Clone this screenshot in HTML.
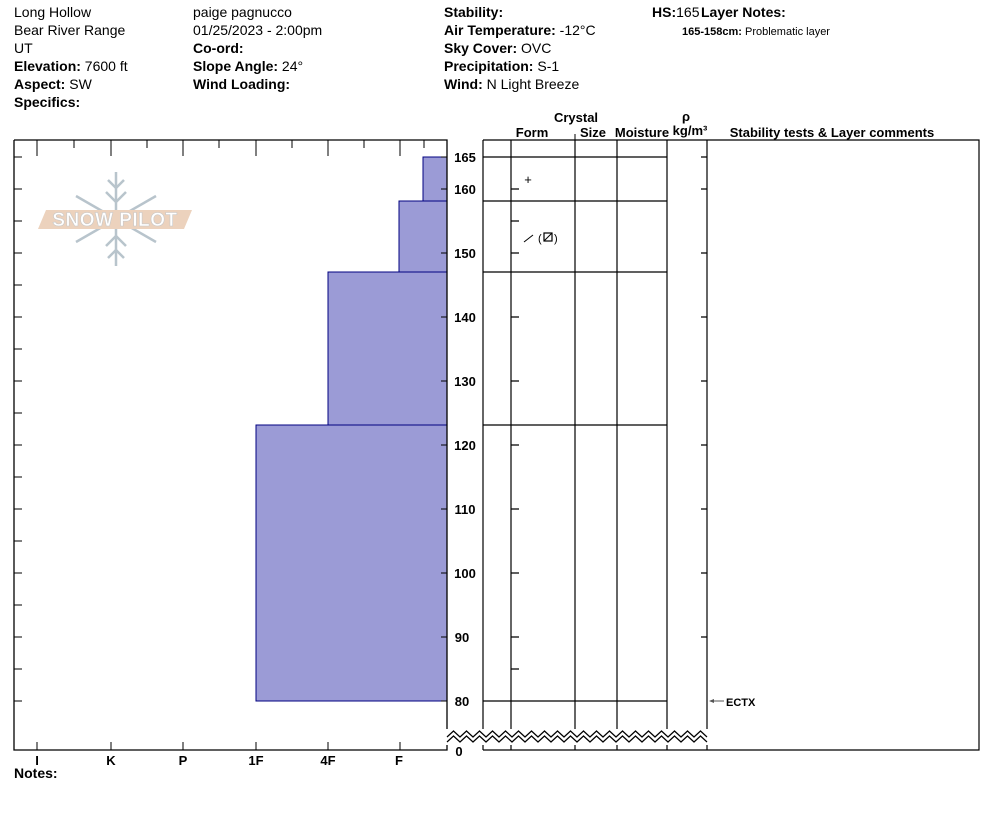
<!DOCTYPE html>
<html><head><meta charset="utf-8"><style>
body{margin:0;background:#fff}
svg{display:block;font-family:"Liberation Sans",sans-serif}
.b{font-weight:bold}
</style></head><body>
<svg width="994" height="840" viewBox="0 0 994 840" xmlns="http://www.w3.org/2000/svg">
<g font-size="14" fill="#000">
<text x="14" y="17">Long Hollow</text>
<text x="14" y="35">Bear River Range</text>
<text x="14" y="53">UT</text>
<text x="14" y="71"><tspan class="b">Elevation:</tspan> 7600 ft</text>
<text x="14" y="89"><tspan class="b">Aspect:</tspan> SW</text>
<text x="14" y="107" class="b">Specifics:</text>
<text x="193" y="17">paige pagnucco</text>
<text x="193" y="35">01/25/2023 - 2:00pm</text>
<text x="193" y="53" class="b">Co-ord:</text>
<text x="193" y="71"><tspan class="b">Slope Angle:</tspan> 24°</text>
<text x="193" y="89" class="b">Wind Loading:</text>
<text x="444" y="17" class="b">Stability:</text>
<text x="444" y="35"><tspan class="b">Air Temperature:</tspan> -12°C</text>
<text x="444" y="53"><tspan class="b">Sky Cover:</tspan> OVC</text>
<text x="444" y="71"><tspan class="b">Precipitation:</tspan> S-1</text>
<text x="444" y="89"><tspan class="b">Wind:</tspan>  N Light Breeze</text>
<text x="652" y="17"><tspan class="b">HS:</tspan>165</text>
<text x="701" y="17" class="b">Layer Notes:</text>
</g>
<text x="682" y="35" font-size="11"><tspan class="b">165-158cm:</tspan> Problematic layer</text>

<g stroke="#b8c4cc" stroke-width="2.5" fill="none">
<line x1="116" y1="172" x2="116" y2="266"/>
<line x1="76" y1="196" x2="156" y2="242"/>
<line x1="76" y1="242" x2="156" y2="196"/>
<path d="M108 180 L116 188 L124 180 M106 192 L116 202 L126 192 M108 258 L116 250 L124 258 M106 246 L116 236 L126 246"/>
</g>
<polygon points="46,210 192,210 184,229 38,229" fill="#ecd2bd"/>
<text x="115" y="226" font-size="19" font-weight="bold" fill="#fff" stroke="#c8c8c8" stroke-width="0.6" text-anchor="middle" letter-spacing="0.5">SNOW PILOT</text>

<g fill="#9b9bd6" stroke="#000080" stroke-width="1">
<rect x="256" y="425" width="191" height="276"/>
<rect x="328" y="272" width="119" height="153"/>
<rect x="399" y="201" width="48" height="71"/>
<rect x="423" y="157" width="24" height="44"/>
</g>

<g stroke="#000" stroke-width="1.3" fill="none">
<path d="M14 140 V750 H447 V140 H14"/>
</g>
<g stroke="#000" stroke-width="1">
<path d="M37 140v16 M111 140v16 M183 140v16 M256 140v16 M328 140v16 M400 140v16 M74 140v8 M147 140v8 M219 140v8 M292 140v8 M364 140v8 M424 140v8"/>
<path d="M37 750v-8 M111 750v-8 M183 750v-8 M256 750v-8 M328 750v-8 M400 750v-8"/>
<path d="M14 157h8 M14 189h8 M14 221h8 M14 253h8 M14 285h8 M14 317h8 M14 349h8 M14 381h8 M14 413h8 M14 445h8 M14 477h8 M14 509h8 M14 541h8 M14 573h8 M14 605h8 M14 637h8 M14 669h8 M14 701h8"/>
<path d="M447 157h-6 M447 189h-6 M447 253h-6 M447 317h-6 M447 381h-6 M447 445h-6 M447 509h-6 M447 573h-6 M447 637h-6 M447 701h-6"/>
</g>
<g font-size="13" font-weight="bold" text-anchor="middle">
<text x="37" y="765">I</text><text x="111" y="765">K</text><text x="183" y="765">P</text>
<text x="256" y="765">1F</text><text x="328" y="765">4F</text><text x="399" y="765">F</text>
</g>
<text x="14" y="778" font-size="14" font-weight="bold">Notes:</text>

<g font-size="13" font-weight="bold" text-anchor="middle">
<text x="465" y="162">165</text><text x="465" y="194">160</text><text x="465" y="258">150</text>
<text x="465" y="322">140</text><text x="465" y="386">130</text><text x="465" y="450">120</text>
<text x="465" y="514">110</text><text x="465" y="578">100</text><text x="462" y="642">90</text>
<text x="462" y="706">80</text><text x="459" y="756">0</text>
</g>

<g font-size="13" font-weight="bold" text-anchor="middle">
<text x="576" y="122">Crystal</text>
<text x="532" y="137">Form</text><text x="593" y="137">Size</text><text x="642" y="137">Moisture</text>
<text x="686" y="121">ρ</text><text x="690" y="135">kg/m³</text>
<text x="832" y="137">Stability tests &amp; Layer comments</text>
</g>
<line x1="575" y1="134" x2="575" y2="140" stroke="#000"/>
<g stroke="#000" stroke-width="1.2" fill="none">
<path d="M483 140 H979 V750 H707 M483 140 V750 M511 140 V750 M575 140 V750 M617 140 V750 M667 140 V750 M707 140 V750 M483 750 H707"/>
<path d="M483 157H667 M483 201H667 M483 272H667 M483 425H667 M483 701H667"/>
<path d="M511 189h8 M511 221h8 M511 253h8 M511 317h8 M511 381h8 M511 445h8 M511 509h8 M511 573h8 M511 637h8 M511 669h8"/>
<path d="M707 157h-6 M707 189h-6 M707 253h-6 M707 317h-6 M707 381h-6 M707 445h-6 M707 509h-6 M707 573h-6 M707 637h-6"/>
</g>
<rect x="446" y="729" width="263" height="16" fill="#fff"/>
<g stroke="#000" stroke-width="1.2" fill="none">
<polyline points="447,737 453.5,731 460,737 466.5,731 473,737 479.5,731 486,737 492.5,731 499,737 505.5,731 512,737 518.5,731 525,737 531.5,731 538,737 544.5,731 551,737 557.5,731 564,737 570.5,731 577,737 583.5,731 590,737 596.5,731 603,737 609.5,731 616,737 622.5,731 629,737 635.5,731 642,737 648.5,731 655,737 661.5,731 668,737 674.5,731 681,737 687.5,731 694,737 700.5,731 707,737"/>
<polyline points="447,742 453.5,736 460,742 466.5,736 473,742 479.5,736 486,742 492.5,736 499,742 505.5,736 512,742 518.5,736 525,742 531.5,736 538,742 544.5,736 551,742 557.5,736 564,742 570.5,736 577,742 583.5,736 590,742 596.5,736 603,742 609.5,736 616,742 622.5,736 629,742 635.5,736 642,742 648.5,736 655,742 661.5,736 668,742 674.5,736 681,742 687.5,736 694,742 700.5,736 707,742"/>
</g>
<text x="528" y="184" font-size="13" text-anchor="middle">+</text>
<line x1="524" y1="242" x2="533" y2="235" stroke="#000"/>
<text x="538" y="242" font-size="11">(</text>
<text x="554" y="242" font-size="11">)</text>
<rect x="544" y="233" width="8" height="8" fill="none" stroke="#000" stroke-width="1.2"/>
<line x1="544" y1="241" x2="552" y2="233" stroke="#000"/>
<line x1="710" y1="701" x2="724" y2="701" stroke="#555"/>
<path d="M709 701 l5,-2 v4z" fill="#555"/>
<text x="726" y="706" font-size="11" font-weight="bold">ECTX</text>
</svg>
</body></html>
